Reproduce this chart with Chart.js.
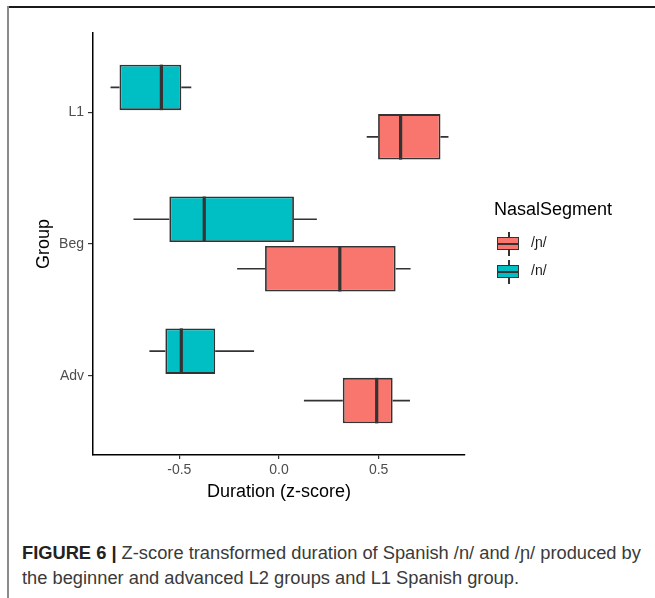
<!DOCTYPE html>
<html>
<head>
<meta charset="utf-8">
<script src="https://cdn.jsdelivr.net/npm/chart.js@4"></script>
<style>
  body { margin: 0; background: #fff; font-family: "Liberation Sans", Arial, sans-serif; }
  #page { position: relative; width: 655px; height: 598px; overflow: hidden; }
  #frameTop { position: absolute; left: 7px; top: 6px; width: 648px; height: 2px; background: #1a1a1a; }
  #frameLeft { position: absolute; left: 7px; top: 6px; width: 1.5px; height: 592px; background: #8a8a8a; }
  #chart { position: absolute; left: 0; top: 0; }
  .legend-title { position: absolute; left: 494px; top: 199px; font-size: 18px; color: #000; }
  .key { position: absolute; left: 497px; width: 23px; height: 24px; }
  .key .wh { position: absolute; left: 11px; top: 0; width: 1.5px; height: 24px; background: #333; }
  .key .bx { position: absolute; left: 0; top: 5px; width: 20px; height: 11px; border: 1.6px solid #333; }
  .key .md { position: absolute; left: 0; top: 5px; width: 20px; height: 1.6px; background: #333; }
  .key-label { position: absolute; left: 531px; font-size: 14px; color: #1a1a1a; }
  #caption { position: absolute; left: 22px; top: 540px; font-size: 18.3px; line-height: 25px; color: #3a3a3a; white-space: nowrap; }
  #caption b { color: #222; }
</style>
</head>
<body>
<div id="page">
  <canvas id="chart" width="655" height="520"></canvas>
  <div id="frameTop"></div>
  <div id="frameLeft"></div>

  <div class="legend-title">NasalSegment</div>
  <div class="key" style="top:232px"><div class="wh"></div><div class="bx" style="background:#F8766D"><div class="md"></div></div></div>
  <div class="key-label" style="top:234px">/ɲ/</div>
  <div class="key" style="top:260px"><div class="wh"></div><div class="bx" style="background:#00BFC4"><div class="md"></div></div></div>
  <div class="key-label" style="top:262px">/n/</div>

  <div id="caption"><b>FIGURE 6 |</b> Z-score transformed duration of Spanish /n/ and /ɲ/ produced by<br>the beginner and advanced L2 groups and L1 Spanish group.</div>
</div>

<script>
// groups, bottom to top, and their positions on the y axis
const groups = ['Adv', 'Beg', 'L1']
const groupPos = [1, 2, 3]
const xTicks = [-0.5, 0, 0.5]

// /n/
const lowN = [-0.65, -0.73, -0.845]
const q1N = [-0.57, -0.55, -0.8]
const medN = [-0.49, -0.375, -0.59]
const q3N = [-0.32, 0.075, -0.49]
const highN = [-0.125, 0.19, -0.44]

// /ɲ/
const lowNy = [0.125, -0.21, 0.44]
const q1Ny = [0.32, -0.07, 0.497]
const medNy = [0.49, 0.305, 0.61]
const q3Ny = [0.57, 0.585, 0.81]
const highNy = [0.657, 0.66, 0.85]

const boxData = (q1, q3) => groupPos.map((g, i) => ({ y: g, x: [q1[i], q3[i]] }))

// whiskers under the boxes, medians on top
const boxWhiskers = {
  id: 'boxWhiskers',
  beforeDatasetsDraw(chart) {
    const { ctx } = chart
    const xs = chart.scales.x
    chart.data.datasets.forEach((ds, d) => {
      chart.getDatasetMeta(d).data.forEach((bar, i) => {
        const { y } = bar.getProps(['y'], true)
        ctx.save()
        ctx.strokeStyle = '#333333'
        ctx.lineWidth = 1.6
        ctx.beginPath()
        ctx.moveTo(xs.getPixelForValue(ds.low[i]), y)
        ctx.lineTo(xs.getPixelForValue(ds.data[i].x[0]), y)
        ctx.moveTo(xs.getPixelForValue(ds.data[i].x[1]), y)
        ctx.lineTo(xs.getPixelForValue(ds.high[i]), y)
        ctx.stroke()
        ctx.restore()
      })
    })
  },
  afterDatasetsDraw(chart) {
    const { ctx } = chart
    const xs = chart.scales.x
    chart.data.datasets.forEach((ds, d) => {
      chart.getDatasetMeta(d).data.forEach((bar, i) => {
        const { y, height } = bar.getProps(['y', 'height'], true)
        const mx = xs.getPixelForValue(ds.med[i])
        ctx.save()
        ctx.strokeStyle = '#333333'
        ctx.lineWidth = 3.2
        ctx.beginPath()
        ctx.moveTo(mx, y - height / 2)
        ctx.lineTo(mx, y + height / 2)
        ctx.stroke()
        ctx.restore()
      })
    })
  },
}

new Chart(document.getElementById('chart'), {
  type: 'bar',
  data: {
    datasets: [
      {
        label: '/n/',
        data: boxData(q1N, q3N),
        low: lowN,
        med: medN,
        high: highN,
        backgroundColor: '#00BFC4',
      },
      {
        label: '/ɲ/',
        data: boxData(q1Ny, q3Ny),
        low: lowNy,
        med: medNy,
        high: highNy,
        backgroundColor: '#F8766D',
      },
    ],
  },
  options: {
    indexAxis: 'y',
    responsive: false,
    animation: false,
    categoryPercentage: 0.75,
    barPercentage: 0.92,
    borderColor: '#333333',
    borderWidth: 1.8,
    borderSkipped: false,
    layout: { padding: { left: 33, top: 33, right: 190, bottom: 17 } },
    plugins: { legend: { display: false }, tooltip: { enabled: false } },
    scales: {
      x: {
        type: 'linear',
        min: -0.933,
        max: 0.933,
        afterBuildTicks: (axis) => { axis.ticks = xTicks.map((v) => ({ value: v })) },
        afterFit: (scale) => { scale.height = 48 },
        ticks: {
          color: '#4D4D4D',
          font: { family: 'Liberation Sans', size: 14 },
          padding: 3,
          maxRotation: 0,
          callback: (v) => v.toFixed(1),
        },
        grid: { drawOnChartArea: false, drawTicks: true, tickLength: 4, color: '#333333', lineWidth: 1.2 },
        border: { color: '#000', width: 1.5 },
        title: {
          display: true,
          text: 'Duration (z-score)',
          color: '#000',
          font: { family: 'Liberation Sans', size: 18 },
          padding: 0,
        },
      },
      y: {
        type: 'linear',
        min: 0.4,
        max: 3.6,
        offset: false,
        afterBuildTicks: (axis) => { axis.ticks = groupPos.map((v) => ({ value: v })) },
        afterFit: (scale) => { scale.width = 60 },
        ticks: {
          color: '#4D4D4D',
          font: { family: 'Liberation Sans', size: 14 },
          padding: 4,
          callback: (v) => groups[groupPos.indexOf(v)],
        },
        grid: { offset: false, drawOnChartArea: false, drawTicks: true, tickLength: 5, color: '#333333', lineWidth: 1.2 },
        border: { color: '#000', width: 1.5 },
        title: {
          display: true,
          text: 'Group',
          color: '#000',
          font: { family: 'Liberation Sans', size: 18 },
          padding: 0,
        },
      },
    },
  },
  plugins: [boxWhiskers],
})
</script>
</body>
</html>
